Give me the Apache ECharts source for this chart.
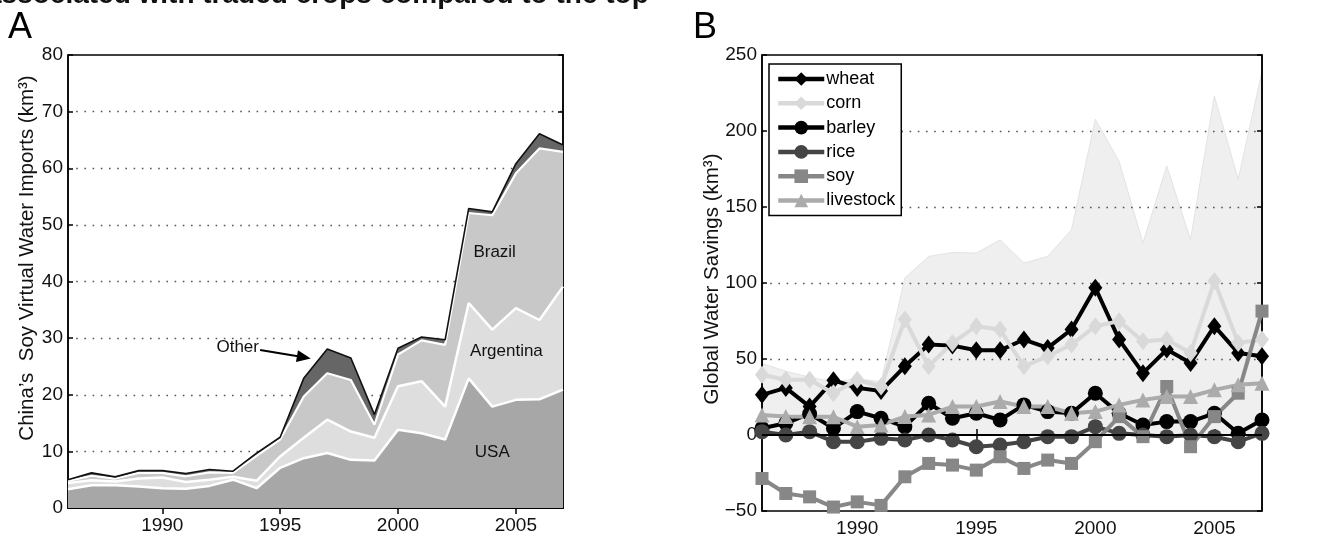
<!DOCTYPE html>
<html>
<head>
<meta charset="utf-8">
<script src="https://cdn.jsdelivr.net/npm/echarts@6/dist/echarts.min.js"></script>
<style>
html,body{margin:0;padding:0;background:#fff;}
#c{width:1341px;height:538px;}
</style>
</head>
<body>
<div id="c"></div>
<script>
// ---------- Data ----------
const years = ['1986','1987','1988','1989','1990','1991','1992','1993','1994','1995','1996','1997','1998','1999','2000','2001','2002','2003','2004','2005','2006','2007'];

// Panel A: China's soy virtual water imports (km3), stacked layers
const usa       = [3.3,4.0,4.0,3.8,3.5,3.4,3.9,5.0,3.5,7.1,8.8,9.7,8.5,8.4,13.8,13.2,12.1,22.9,17.9,19.1,19.2,20.9];
const argentina = [1.1,0.9,0.7,1.4,1.9,1.2,1.1,0.5,1.3,2.0,3.6,5.9,5.0,4.0,7.7,9.2,5.8,13.3,13.6,16.2,14.0,18.2];
const brazil    = [0.4,0.8,0.5,1.0,0.8,1.0,1.3,0.7,4.4,3.0,7.3,8.2,9.1,2.3,5.6,7.2,10.9,15.9,20.2,23.8,30.3,23.8];
const other     = [0.2,0.5,0.3,0.4,0.4,0.5,0.5,0.3,0.5,0.4,3.2,4.3,3.9,1.8,1.1,0.6,0.9,0.8,0.6,1.7,2.6,1.2];

// Panel B: global water savings (km3)
const wheat     = [26.4,31,18.7,36,31,29,45.2,59.5,58.8,55.7,55.7,62.8,57.3,69.4,96.9,62.8,40.7,56.2,47.4,71.6,54,51.8];
const corn      = [39.6,36.3,36.3,27.5,36.3,31.9,76,45.2,60.6,71.6,69.4,45.2,51.8,59.5,71.6,74.9,61.7,62.8,54,101.3,60.6,62.8];
const cornUpper = [47,42,38,35,37,35,103.3,117.5,120.1,119.7,128.4,113.1,117.5,135,207.7,179.9,126.3,177,128.4,223,168.3,239];
const barley    = [4.4,7.7,14,4.4,15.4,11,5.5,20.9,11,14.3,9.9,19.8,15.4,14.3,27.5,14.3,6.6,8.8,8.8,14.3,1.1,9.9];
const rice      = [2.2,0,2.2,-4.4,-4.4,-2.2,-3.3,0,-3.3,-7.7,-6.6,-4.4,-1.1,-1.1,5.5,1.1,0,-1.1,0,-1.1,-4.4,1.1];
const soy       = [-28.6,-38.5,-40.7,-47.4,-44,-46.3,-27.5,-18.7,-19.8,-23.1,-14.3,-22,-16.5,-18.7,-4.4,12.1,-1.1,31.9,-7.7,12.1,27.5,81.5];
const livestock = [13.2,12.1,12,12,5.5,6.6,12.1,13.2,18.7,18.7,22,18.7,18.7,14.3,15.4,19.8,23.1,25.3,25.3,29.7,33,34.1];

const tickYears = [1990,1995,2000,2005];

// ---------- Chart ----------
const FONT = '"Liberation Sans", Arial, Helvetica, sans-serif';
const chart = echarts.init(document.getElementById('c'), null, {renderer:'canvas'});

const showYear = (i, v) => tickYears.indexOf(+v) >= 0;
const dotted = {type:[1.6,6.6], width:1.4};

function xAxes(gi){
  return [
    {type:'category', gridIndex:gi, data:years, boundaryGap:false, position:'bottom',
     axisLine:{show:true, lineStyle:{color:'#000', width:1.5}},
     axisTick:{show:true, inside:true, length:6, interval:showYear, lineStyle:{color:'#000',width:1.5}},
     axisLabel:{interval:showYear, color:'#111', fontSize:19, fontFamily:FONT, margin:8},
     splitLine:{show:false}, z:0},
    {type:'category', gridIndex:gi, data:years, boundaryGap:false, position:'top',
     axisLine:{show:true, lineStyle:{color:'#000', width:1.5}},
     axisTick:{show:true, inside:true, length:6, interval:showYear, lineStyle:{color:'#000',width:1.5}},
     axisLabel:{show:false}, splitLine:{show:false}}
  ];
}

function yAxes(gi, min, max, step, gridColors, fmt){
  return [
    {type:'value', gridIndex:gi, min:min, max:max, interval:step, position:'left',
     axisLine:{show:true, lineStyle:{color:'#000', width:1.5}},
     axisTick:{show:true, inside:true, length:5, lineStyle:{color:'#000',width:1.5}},
     axisLabel:{color:'#111', fontSize:19, fontFamily:FONT, margin:5, formatter:fmt},
     splitLine:{show:true, lineStyle:Object.assign({color:gridColors}, dotted)}},
    {type:'value', gridIndex:gi, min:min, max:max, interval:step, position:'right',
     axisLine:{show:true, lineStyle:{color:'#000', width:1.5}},
     axisTick:{show:true, inside:true, length:5, lineStyle:{color:'#000',width:1.5}},
     axisLabel:{show:false}, splitLine:{show:false}}
  ];
}

const T = 'rgba(0,0,0,0)';
const G = '#555';

function stackArea(name, data, fill, lineColor, lw){
  return {
    name:name, type:'line', xAxisIndex:0, yAxisIndex:0, stack:'A', data:data,
    symbol:'none', smooth:false,
    lineStyle:{color:lineColor, width:lw},
    areaStyle:{color:fill, opacity:1},
    itemStyle:{color:fill},
    emphasis:{disabled:true}, z:2
  };
}

function lineB(name, data, color, symbol, size){
  return {
    name:name, type:'line', xAxisIndex:2, yAxisIndex:2, data:data,
    symbol:symbol, symbolSize:size, showSymbol:true, showAllSymbol:true,
    lineStyle:{color:color, width:4},
    itemStyle:{color:color, borderWidth:0},
    emphasis:{disabled:true}, z:3
  };
}

const option = {
  animation:false,
  backgroundColor:'#fff',
  textStyle:{fontFamily:FONT},
  grid:[
    {left:68, top:55, width:495, height:453, show:true, borderColor:'#000', borderWidth:1.5, backgroundColor:'transparent'},
    {left:762, top:55, width:500, height:456, show:true, borderColor:'#000', borderWidth:1.5, backgroundColor:'transparent'}
  ],
  xAxis: xAxes(0).concat(xAxes(1)),
  yAxis: yAxes(0, 0, 80, 10, [T,G,G,G,G,G,G,G,T]).concat(
         yAxes(1, -50, 250, 50, [T,T,G,G,G,G,T], v => v < 0 ? '\u2212' + Math.abs(v) : String(v))),
  legend:{
    data:['wheat','corn','barley','rice','soy','livestock'],
    orient:'vertical', left:769, top:64,
    itemWidth:46, itemHeight:17, itemGap:6.3,
    padding:[6,6,6,7],
    backgroundColor:'#fff', borderColor:'#000', borderWidth:1.5,
    lineStyle:{width:4.5},
    textStyle:{fontSize:18, lineHeight:17, color:'#000', fontFamily:FONT, padding:[0,0,0,-3]},
    selectedMode:false, z:10
  },
  series:[
    stackArea('USA', usa, '#a7a7a7', '#fff', 2.5),
    stackArea('Argentina', argentina, '#dedede', '#fff', 2.5),
    stackArea('Brazil', brazil, '#c8c8c8', '#fff', 2.2),
    stackArea('Other', other, '#666666', '#111', 1.6),
    {
      name:'cornRange', type:'line', xAxisIndex:2, yAxisIndex:2, data:cornUpper,
      symbol:'none', lineStyle:{color:'#e3e3e3', width:1}, areaStyle:{color:'#efefef', opacity:1},
      emphasis:{disabled:true}, z:-1,
      markLine:{silent:true, symbol:'none', label:{show:false},
        lineStyle:{color:'#000', width:2, type:'solid'}, data:[{yAxis:0}], animation:false}
    },
    lineB('wheat', wheat, '#000000', 'diamond', [14,18]),
    lineB('corn', corn, '#d9d9d9', 'diamond', [14,18]),
    lineB('barley', barley, '#000000', 'circle', 15),
    lineB('rice', rice, '#454545', 'circle', 15),
    lineB('soy', soy, '#878787', 'rect', 13),
    lineB('livestock', livestock, '#ababab', 'triangle', 15)
  ]
};
chart.setOption(option);

// ---------- Annotations (positioned in data space) ----------
function px(gi, yearFloat, value){
  const a = chart.convertToPixel({gridIndex:gi}, [0, value]);
  const b = chart.convertToPixel({gridIndex:gi}, [years.length - 1, value]);
  const t = (yearFloat - (+years[0])) / (years.length - 1);
  return [a[0] + (b[0] - a[0]) * t, a[1]];
}
const lab = (gi, yr, v, text, align) => {
  const p = px(gi, yr, v);
  return {type:'text', x:p[0], y:p[1], z:100,
    style:{text:text, fill:'#111', font:'17px ' + FONT, textAlign:align || 'center', textVerticalAlign:'middle'}};
};
const a0 = px(0, 1994.15, 27.9), a1 = px(0, 1996.3, 26.4);
const ang = Math.atan2(a1[1] - a0[1], a1[0] - a0[0]);
const hl = 14, hw = 6;
const head = [
  [a1[0], a1[1]],
  [a1[0] - hl*Math.cos(ang) + hw*Math.sin(ang), a1[1] - hl*Math.sin(ang) - hw*Math.cos(ang)],
  [a1[0] - hl*Math.cos(ang) - hw*Math.sin(ang), a1[1] - hl*Math.sin(ang) + hw*Math.cos(ang)]
];
const yName = (gi, text, xOff) => {
  const g = chart.convertToPixel({gridIndex:gi}, [0, 0]);
  return {type:'text', x:g[0] - xOff, y:(gi === 0 ? 258 : 279), rotation:Math.PI/2, z:100,
    style:{text:text, fill:'#111', font:'20.5px ' + FONT, textAlign:'center', textVerticalAlign:'middle'}};
};

chart.setOption({
  graphic:[
    {type:'text', left:-14, top:-19, z:100, style:{text:'associated with traded crops compared to the top', fill:'#111', font:'bold 28px ' + FONT}},
    {type:'text', left:8, top:10, z:100, style:{text:'A', fill:'#000', font:'36px ' + FONT}},
    {type:'text', left:693, top:10, z:100, style:{text:'B', fill:'#000', font:'36px ' + FONT}},
    yName(0, 'China\u2019s  Soy Virtual Water Imports (km\u00B3)', 41),
    yName(1, 'Global Water Savings (km\u00B3)', 50),
    lab(0, 2004.1, 45.2, 'Brazil'),
    lab(0, 2004.6, 27.6, 'Argentina'),
    lab(0, 2004.0, 9.9, 'USA'),
    lab(0, 1993.2, 28.3, 'Other'),
    {type:'line', z:100, shape:{x1:a0[0], y1:a0[1], x2:a1[0] - 10*Math.cos(ang), y2:a1[1] - 10*Math.sin(ang)}, style:{stroke:'#000', lineWidth:2}},
    {type:'polygon', z:100, shape:{points:head}, style:{fill:'#000'}}
  ]
});
</script>
</body>
</html>
